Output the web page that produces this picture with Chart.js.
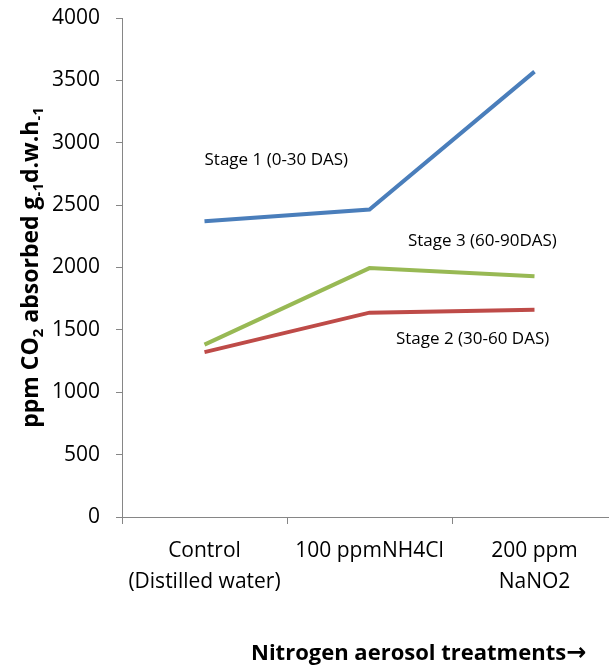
<!DOCTYPE html>
<html>
<head>
<meta charset="utf-8">
<script src="https://cdn.jsdelivr.net/npm/chart.js@4/dist/chart.umd.min.js"></script>
<style>
  html, body { margin: 0; padding: 0; background: #fff; overflow: hidden; }
  #wrap { width: 620px; height: 670px; }
</style>
</head>
<body>
<div id="wrap"><canvas id="co2Chart" width="620" height="670"></canvas></div>
<script>
// Traitements (axe X) et absorption de CO2 par stade
const treatments = [['Control', '(Distilled water)'], '100 ppmNH4Cl', ['200 ppm', 'NaNO2']];
const stage1 = [2370, 2464, 3570];
const stage2 = [1322, 1638, 1662];
const stage3 = [1382, 1995, 1930];
const yTicks = [0, 500, 1000, 1500, 2000, 2500, 3000, 3500, 4000];

// Etiquettes des courbes : texte, position (index de catégorie, valeur)
const stageLabels = [
    { text: 'Stage 1 (0-30 DAS)', x: 0, y: 2860 },
    { text: 'Stage 3 (60-90DAS)', x: 1.233, y: 2215 },
    { text: 'Stage 2 (30-60 DAS)', x: 1.16, y: 1425 }
];

const FONT = '"Open Sans", sans-serif';
const axisGrey = '#868686';

// Titres des axes et étiquettes dessinés à la main (indices pour CO2 et g-1, h-1)
const textPlugin = {
    id: 'textPlugin',
    afterDraw(chart) {
        const ctx = chart.ctx;
        const xs = chart.scales.x, ys = chart.scales.y;
        ctx.save();
        ctx.fillStyle = '#000';

        // étiquettes des stades
        ctx.font = '17px ' + FONT;
        ctx.textAlign = 'left';
        ctx.textBaseline = 'middle';
        stageLabels.forEach(l => {
            const px = xs.getPixelForValue(0) + l.x * (xs.getPixelForValue(1) - xs.getPixelForValue(0));
            ctx.fillText(l.text, px, ys.getPixelForValue(l.y));
        });

        // titre de l'axe Y, tourné
        const parts = [
            ['ppm CO', false], ['2', true], [' absorbed g', false], ['-1', true],
            ['d.w.h', false], ['-1', true]
        ];
        const big = 'bold 23px ' + FONT, small = 'bold 15px ' + FONT;
        let total = 0;
        parts.forEach(p => { ctx.font = p[1] ? small : big; total += ctx.measureText(p[0]).width; });
        ctx.translate(30, (chart.chartArea.top + chart.chartArea.bottom) / 2);
        ctx.rotate(-Math.PI / 2);
        ctx.textBaseline = 'alphabetic';
        let cx = -total / 2;
        parts.forEach(p => {
            ctx.font = p[1] ? small : big;
            ctx.fillText(p[0], cx, p[1] ? 13 : 8);
            cx += ctx.measureText(p[0]).width;
        });
        ctx.setTransform(1, 0, 0, 1, 0, 0);

        // titre de l'axe X, flèche en DejaVu (plus grande)
        ctx.textAlign = 'left';
        ctx.textBaseline = 'alphabetic';
        ctx.font = 'bold 22px ' + FONT;
        const title = 'Nitrogen aerosol treatments';
        ctx.fillText(title, 251, 660);
        const w = ctx.measureText(title).width;
        ctx.font = 'bold 24px "DejaVu Sans"';
        ctx.fillText('\u2192', 251 + w, 660);
        ctx.restore();
    }
};

function makeSeries(label, data, color) {
    return {
        label: label,
        data: data,
        borderColor: color,
        backgroundColor: color,
        borderWidth: 4,
        pointRadius: 0,
        tension: 0,
        fill: false
    };
}

const ctx = document.getElementById('co2Chart').getContext('2d');
new Chart(ctx, {
    type: 'line',
    data: {
        labels: treatments,
        datasets: [
            makeSeries('Stage 1 (0-30 DAS)', stage1, '#4A7EBB'),
            makeSeries('Stage 2 (30-60 DAS)', stage2, '#BE4B48'),
            makeSeries('Stage 3 (60-90DAS)', stage3, '#98B954')
        ]
    },
    options: {
        responsive: false,
        animation: false,
        layout: { padding: { top: 18, right: 3, left: 0, bottom: 0 } },
        plugins: {
            legend: { display: false },
            tooltip: { enabled: false }
        },
        scales: {
            x: {
                offset: true,
                grid: {
                    offset: true,
                    drawOnChartArea: false,
                    color: axisGrey,
                    tickLength: 7
                },
                border: { color: axisGrey, width: 1 },
                ticks: {
                    color: '#000',
                    font: { family: FONT, size: 21, lineHeight: 1.45 },
                    padding: 12,
                    maxRotation: 0
                },
                afterFit: s => { s.height = 153; }
            },
            y: {
                min: 0,
                max: 4000,
                afterBuildTicks: s => { s.ticks = yTicks.map(v => ({ value: v })); },
                grid: {
                    drawOnChartArea: false,
                    color: axisGrey,
                    tickLength: 6
                },
                border: { color: axisGrey, width: 1 },
                ticks: {
                    color: '#000',
                    font: { family: FONT, size: 21 },
                    padding: 16,
                    callback: v => String(v)
                },
                afterFit: s => {
                    s.width = 122;
                    s.paddingTop = 0;
                    s.paddingBottom = 0;
                }
            }
        }
    },
    plugins: [textPlugin]
});
</script>
</body>
</html>
